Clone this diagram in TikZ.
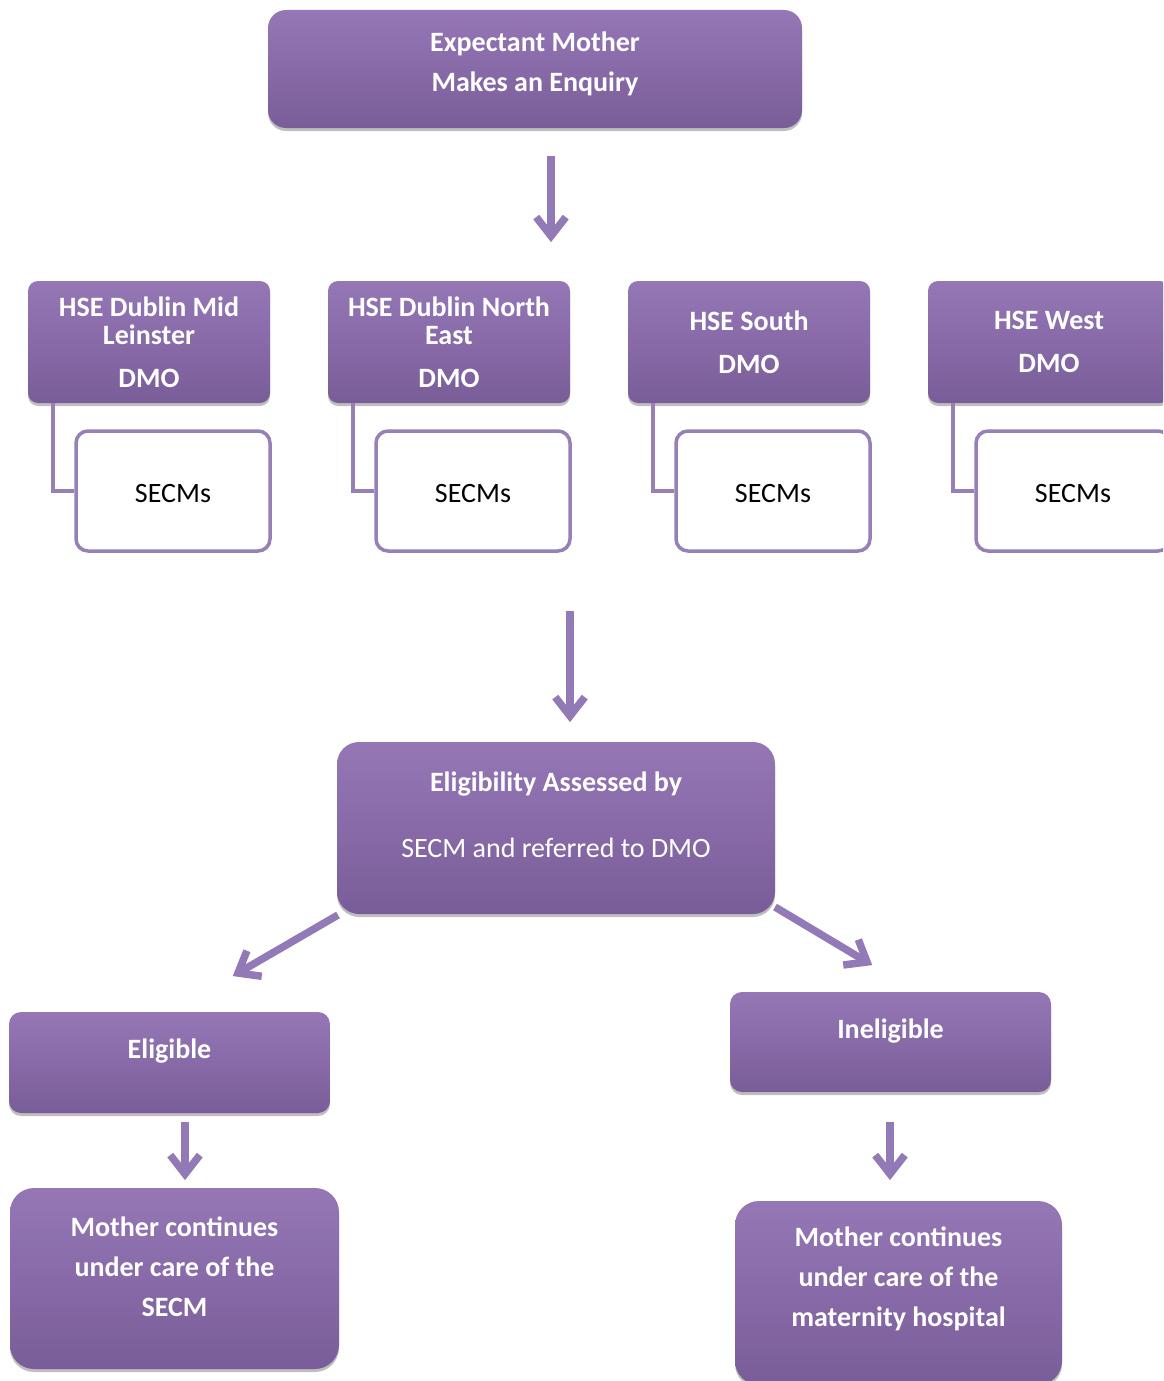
\documentclass[tikz,border=0pt]{standalone}
\usepackage{fontspec}
\setmainfont{Carlito}
\usetikzlibrary{calc,shadows}
\definecolor{ptop}{RGB}{149,119,182}
\definecolor{pbot}{RGB}{121,93,152}
\definecolor{parrow}{RGB}{146,122,182}
\definecolor{pline}{RGB}{150,128,182}
\begin{document}
\begin{tikzpicture}[x=1pt,y=-1pt,
  pbox/.style={draw=none, rounded corners=#1, top color=ptop, bottom color=pbot,
    drop shadow={shadow xshift=0pt, shadow yshift=-3pt, opacity=0.25, fill=black}},
  pbox/.default=12pt,
  wbox/.style={draw=pline, line width=3.5pt, fill=white, rounded corners=12pt,
    minimum width=194, minimum height=120, font=\fontsize{28}{34}\selectfont,
    text depth=0pt, text height=22pt},
  dmo/.style={pbox=10pt, minimum width=242, minimum height=122, text=white,
    align=center, font=\fontsize{28}{28}\selectfont\bfseries},
  wtext/.style={text=white, align=center, font=\fontsize{28}{40}\selectfont\bfseries},
  conn/.style={draw=pline, line width=4.5pt},
  arr/.style={draw=parrow, line width=7.5pt, line cap=butt, line join=miter}
]
\useasboundingbox (0,0) rectangle (1163,1381);
\clip (0,0) rectangle (1163,1381);

% top
\node[pbox=18pt, minimum width=534, minimum height=118] (top) at (535,69) {};
\node[wtext] (topT) at ([yshift=5pt]top.center) {Expectant Mother\\Makes an Enquiry};

% DMO boxes
\node[dmo] (d1) at (149,342) {HSE Dublin Mid\\Leinster\\[15pt]DMO};
\node[dmo] (d2) at (449,342) {HSE Dublin North\\East\\[15pt]DMO};
\node[dmo] (d3) at (749,342) {HSE South\\[15pt]DMO};
\node[dmo] (d4) at (1049,342) {HSE West\\[15pt]DMO};

% SECMs boxes
\node[wbox] (s1) at (173,491) {SECMs};
\node[wbox] (s2) at (473,491) {SECMs};
\node[wbox] (s3) at (773,491) {SECMs};
\node[wbox] (s4) at (1073,491) {SECMs};

\foreach \i in {1,2,3,4}{
  \draw[conn] ([xshift=25pt]d\i.south west) |- (s\i.west);
}

% eligibility
\node[pbox=22pt, minimum width=438, minimum height=172] (elig) at (556,828) {};
\node[text=white, font=\fontsize{28}{34}\selectfont\bfseries] (eligA) at (556,784) {Eligibility Assessed by};
\node[text=white, font=\fontsize{28}{34}\selectfont] (eligB) at (556,848) {SECM and referred to DMO};

% outcomes
\node[pbox=12pt, minimum width=321, minimum height=101] (yes) at (169.5,1062.5) {};
\node[wtext] (yesT) at ([yshift=11pt]yes.center) {Eligible};
\node[pbox=12pt, minimum width=321, minimum height=100] (no) at (890.5,1042) {};
\node[wtext] (noT) at ([yshift=11pt]no.center) {Ineligible};

\node[pbox=24pt, minimum width=329, minimum height=181] (m1) at (174.5,1278.5) {};
\node[wtext] (m1T) at ([yshift=12pt]m1.center) {Mother continues\\under care of the\\SECM};
\node[pbox=24pt, minimum width=327, minimum height=184] (m2) at (898.5,1293) {};
\node[wtext] (m2T) at ([yshift=14pt]m2.center) {Mother continues\\under care of the\\maternity hospital};

% arrows
\coordinate (a1s) at (551,156); \coordinate (a1e) at (551,236);
\coordinate (a2s) at (570,611); \coordinate (a2e) at (570,716);
\coordinate (a3s) at (338,915); \coordinate (a3e) at (238,973);
\coordinate (a4s) at (775,907); \coordinate (a4e) at (867,962);
\coordinate (a5s) at (185,1122); \coordinate (a5e) at (185,1174);
\coordinate (a6s) at (890,1122); \coordinate (a6e) at (890,1174);
\foreach \k in {1,...,6}{
  \draw[arr] (a\k s) -- ($(a\k e)!3pt!(a\k s)$);
  \draw[arr] ($(a\k e)!24pt!38:(a\k s)$) -- (a\k e) -- ($(a\k e)!24pt!-38:(a\k s)$);
}
\end{tikzpicture}
\end{document}
